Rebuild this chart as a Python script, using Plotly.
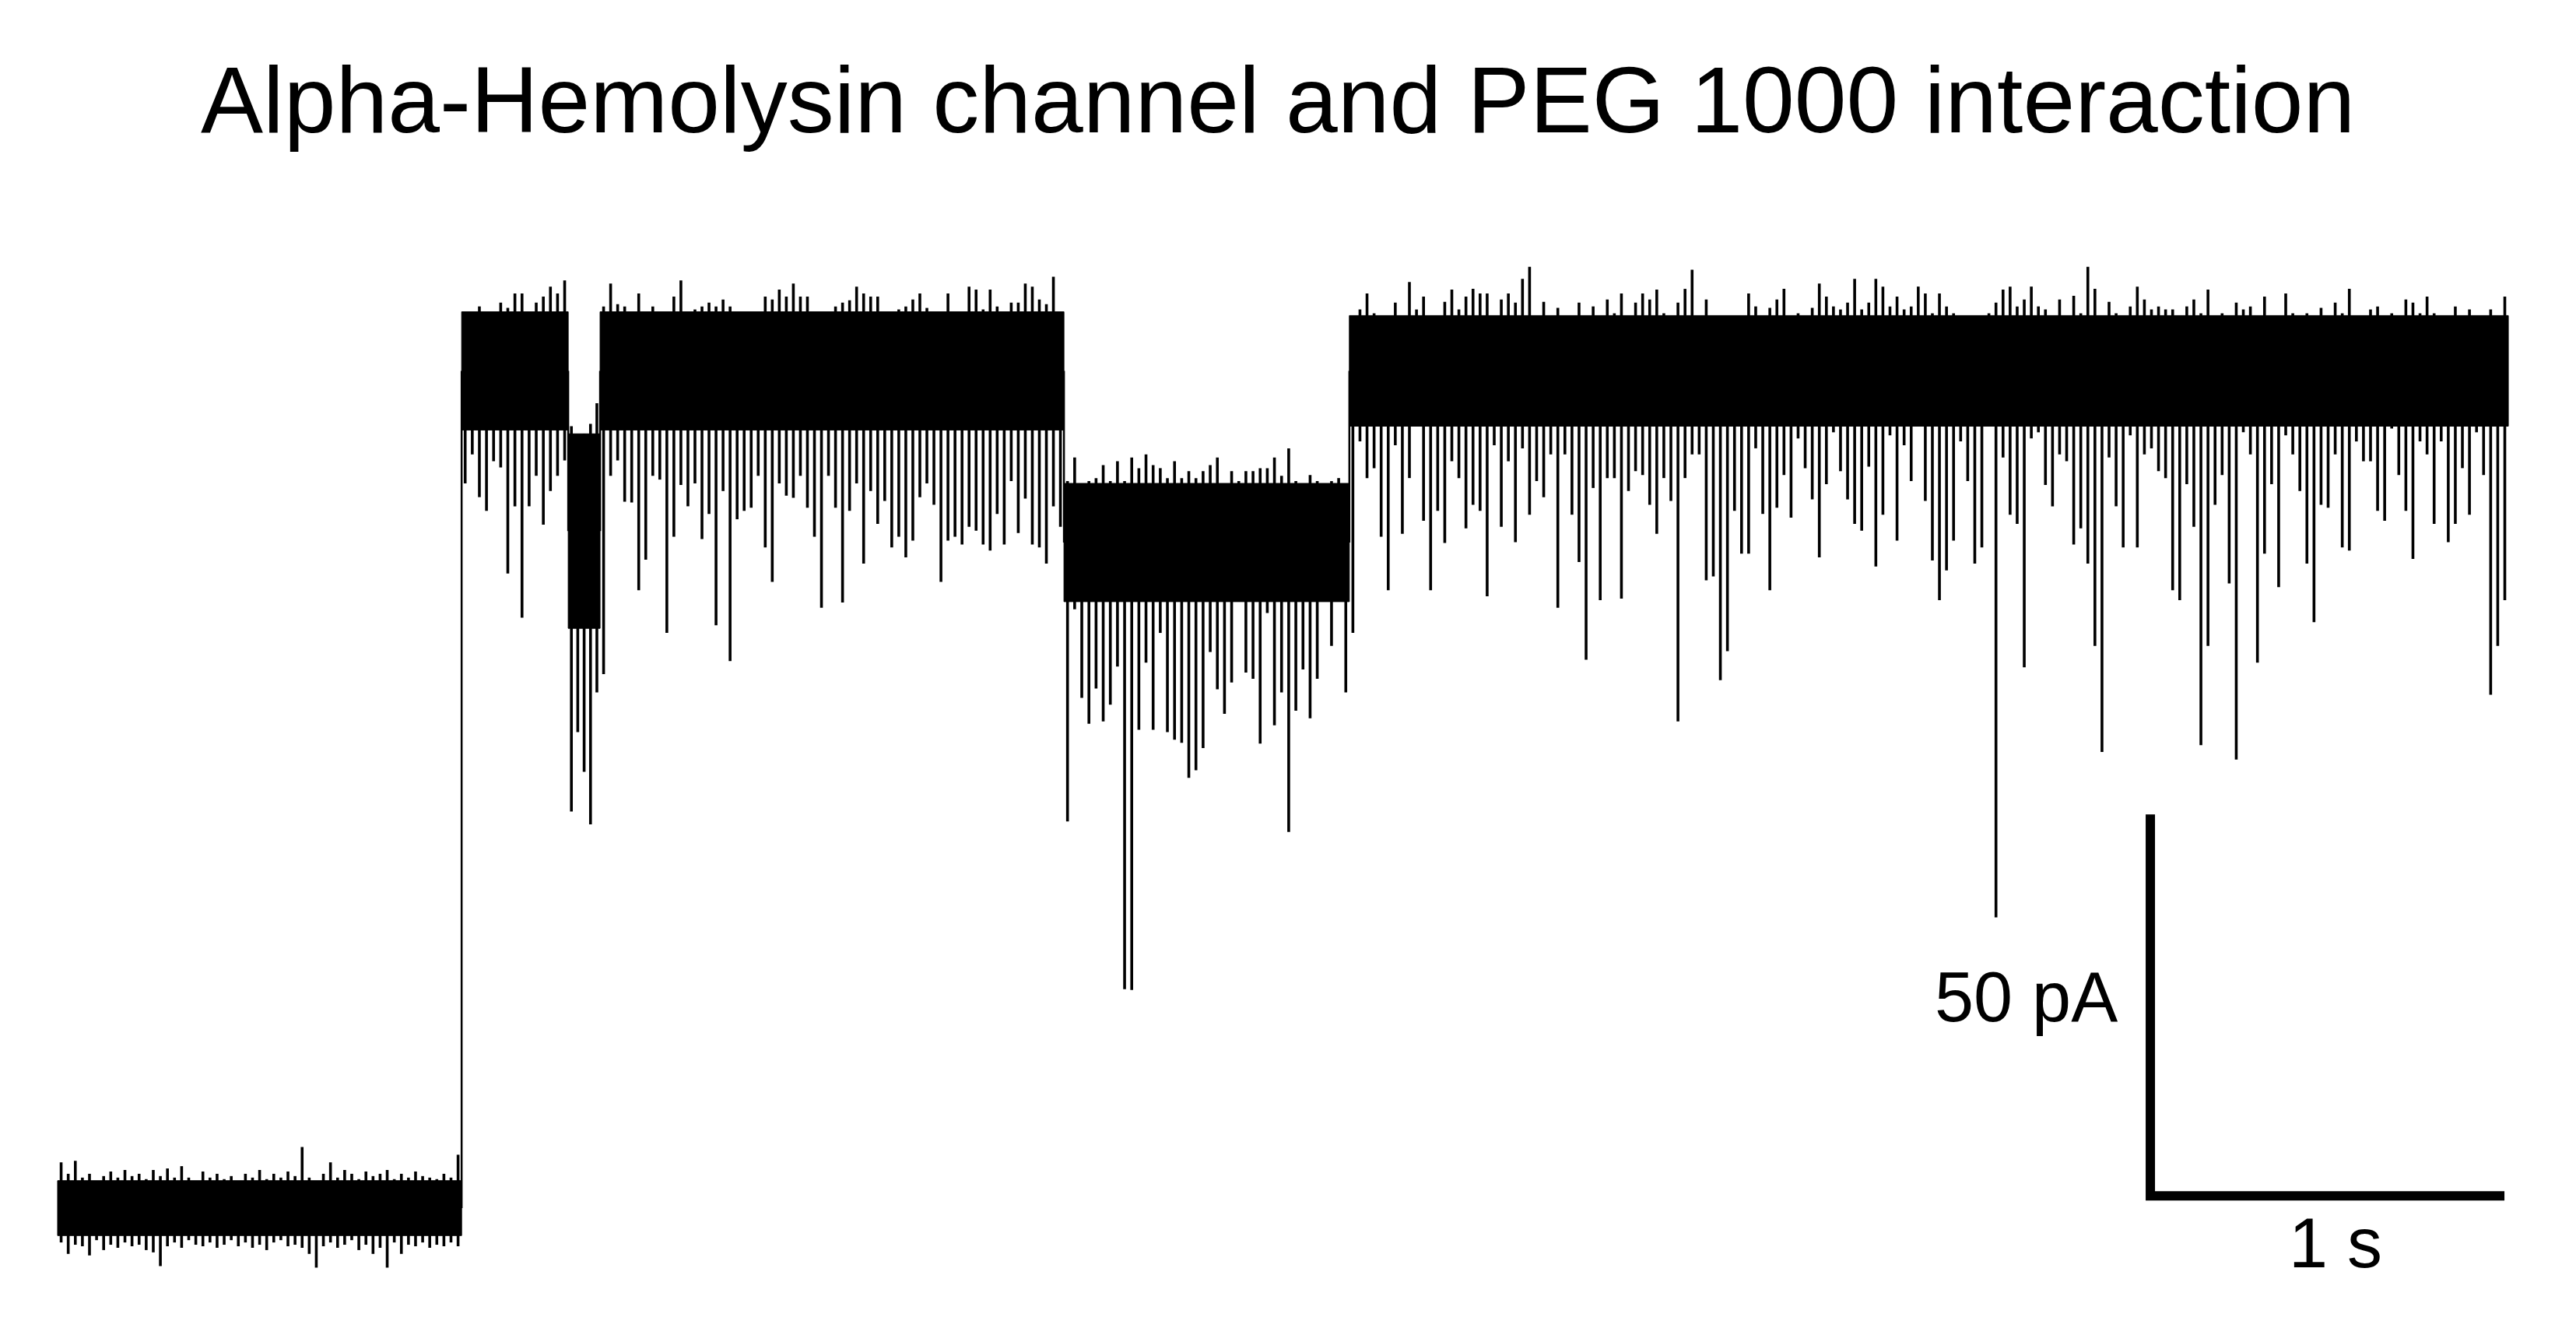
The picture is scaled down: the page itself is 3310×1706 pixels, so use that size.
import numpy as np
import plotly.graph_objects as go

# ---------------- data (time in s, current in pA) ----------------
seg_names = ["baseline", "open", "PEG dip", "open", "PEG block", "open"]
seg_start = [0.000, 1.141, 1.442, 1.532, 2.842, 3.648]
seg_end = [1.141, 1.442, 1.532, 2.842, 3.648, 6.921]
core_top = [3.6, 117.5, 101.5, 117.5, 95.0, 117.0]
core_bottom = [-3.6, 102.0, 76.0, 102.0, 79.5, 102.5]

baseline_hi = [6.0, 4.5, 6.2, 4.0, 4.5, 3.5, 4.2, 4.8, 4.0, 5.0,
               4.2, 4.5, 3.8, 5.0, 4.2, 5.2, 4.0, 5.5, 4.0, 3.2,
               4.8, 4.0, 4.5, 3.8, 4.2, 3.5, 4.5, 4.0, 5.0, 3.8,
               4.5, 4.0, 4.8, 4.2, 8.0, 4.0, 3.5, 4.5, 6.0, 4.0,
               5.0, 4.5, 3.8, 4.8, 4.2, 4.5, 5.0, 3.8, 4.5, 4.0,
               4.8, 4.2, 4.0, 3.8, 4.5, 4.0, 7.0]
baseline_lo = [-4.5, -6.0, -4.8, -5.0, -6.2, -4.2, -5.5, -4.8, -5.2, -4.5,
               -5.0, -4.8, -5.5, -5.8, -7.6, -5.0, -4.5, -5.2, -4.2, -4.8,
               -5.0, -4.5, -5.2, -4.8, -4.2, -5.0, -4.5, -5.2, -4.8, -5.5,
               -4.5, -4.2, -5.0, -4.8, -5.2, -6.0, -7.8, -5.0, -4.5, -5.2,
               -4.8, -4.2, -5.5, -4.8, -6.0, -5.2, -7.8, -4.5, -6.0, -4.8,
               -5.0, -4.5, -5.2, -4.8, -5.0, -4.5, -5.0]

open1a_hi = [116.9, 116.5, 118.2, 116.5, 116.0, 118.7, 118.0, 119.9, 119.9, 116.0,
             118.7, 119.5, 120.8, 119.9, 121.6]
open1a_lo = [95.0, 98.8, 93.2, 91.4, 97.9, 97.1, 83.2, 92.0, 77.4, 92.0,
             96.0, 89.6, 94.0, 96.0, 98.0]

dip_hi = [102.5, 101.0, 101.5, 102.8, 105.5]
dip_lo = [52.0, 62.4, 57.2, 50.3, 67.6]

open1b_hi = [118.2, 121.2, 118.5, 118.2, 117.3, 119.9, 116.9, 118.2, 115.6, 116.9,
             119.5, 121.6, 116.9, 117.8, 118.2, 118.7, 118.2, 119.1, 118.2, 115.2,
             116.9, 116.9, 117.5, 119.5, 119.1, 120.4, 119.5, 121.2, 119.5, 119.5,
             113.5, 116.5, 116.9, 118.2, 118.7, 119.0, 120.8, 119.9, 119.5, 119.5,
             116.0, 116.9, 117.8, 118.2, 119.1, 119.9, 118.0, 116.0, 116.9, 119.9,
             116.0, 116.9, 120.8, 120.4, 117.8, 120.4, 118.2, 116.5, 118.7, 118.7,
             121.2, 120.8, 119.1, 118.5, 122.1, 117.3]
open1b_lo = [70.0, 96.0, 98.0, 92.6, 92.5, 81.0, 85.0, 96.0, 95.5, 75.4,
             88.0, 94.8, 92.0, 95.0, 87.7, 91.0, 76.4, 94.0, 71.7, 90.3,
             91.4, 91.8, 96.0, 86.6, 82.1, 95.0, 93.4, 93.1, 96.0, 91.8,
             88.0, 78.7, 96.0, 91.8, 79.4, 91.4, 95.0, 84.5, 94.0, 89.7,
             92.7, 86.6, 88.0, 85.3, 87.5, 93.2, 95.0, 92.2, 82.1, 87.5,
             88.0, 87.0, 89.3, 88.8, 87.0, 86.2, 91.0, 87.0, 95.3, 88.5,
             93.0, 87.0, 86.6, 84.5, 92.0, 89.3]

peg_hi = [95.3, 98.4, 95.0, 95.3, 95.7, 97.4, 95.3, 97.9, 95.3, 98.4,
          97.0, 98.8, 97.4, 97.0, 95.7, 97.9, 95.7, 96.6, 95.7, 96.6,
          97.4, 98.4, 94.9, 96.6, 95.3, 96.6, 96.6, 97.0, 97.0, 98.4,
          96.0, 99.6, 95.3, 94.0, 96.1, 95.3, 94.4, 95.3, 95.7, 94.9]
peg_lo = [50.7, 78.5, 66.9, 63.5, 68.1, 63.8, 66.0, 71.0, 28.7, 28.6,
          62.7, 71.5, 62.7, 75.4, 62.4, 61.4, 61.0, 56.4, 57.4, 60.3,
          72.9, 68.0, 64.8, 68.9, 81.0, 70.2, 69.4, 60.9, 78.0, 63.3,
          67.6, 49.3, 65.2, 70.6, 64.2, 69.4, 82.3, 73.7, 79.7, 67.6]

open2_hi = [115.6, 117.8, 119.9, 117.3, 114.8, 116.5, 118.7, 116.9, 121.4, 117.8,
            119.5, 116.0, 116.5, 118.8, 120.4, 117.8, 119.5, 120.5, 119.9, 119.9,
            116.5, 119.1, 119.9, 118.7, 121.8, 123.4, 116.0, 118.8, 116.9, 118.0,
            113.9, 115.2, 118.7, 116.0, 118.2, 115.6, 119.1, 117.3, 119.9, 116.9,
            118.7, 119.9, 119.1, 120.4, 117.3, 116.0, 118.7, 120.5, 123.0, 116.0,
            119.1, 114.3, 116.0, 116.0, 116.5, 116.9,
            119.9, 118.2, 116.5, 118.0, 119.1, 120.5, 116.0, 117.3, 116.5, 118.0,
            121.2, 119.5, 118.2, 117.8, 118.7, 121.8, 117.8, 118.7, 121.8, 120.8,
            118.2, 119.5, 117.8, 118.2, 120.8, 119.9, 117.3, 119.9, 118.2, 117.3,
            116.5, 115.2, 111.5, 115.6, 117.3, 118.7, 120.4, 120.8, 118.2, 119.1,
            120.8, 118.2, 117.8, 116.9, 119.1, 116.5, 119.6, 117.3, 123.4, 120.5,
            116.0, 118.8, 117.3, 116.9, 118.2, 120.8, 119.1, 117.8, 118.2,
            117.8, 117.8, 116.5, 118.2, 119.1, 117.3, 120.4, 116.9, 117.3, 116.5,
            118.7, 117.8, 118.2, 116.5, 119.5, 116.9, 116.0, 119.9, 117.3, 116.5,
            117.3, 116.9, 118.0, 116.9, 118.7, 117.3, 120.5, 116.9, 116.5, 117.8,
            118.2, 116.5, 117.3, 116.0, 119.1, 118.7, 117.3, 119.5, 117.3, 116.5,
            116.9, 118.2, 116.9, 117.8, 116.5, 116.9, 117.8, 116.9, 119.5]
open2_lo = [75.4, 100.5, 95.7, 97.0, 88.0, 81.0, 100.0, 88.4, 95.7, 103.1,
            90.1, 81.0, 91.4, 87.2, 97.9, 95.7, 89.1, 92.2, 91.4, 80.2,
            100.0, 89.3, 97.9, 87.3, 99.6, 90.9, 95.3, 93.2, 98.8, 78.7,
            98.8, 90.9, 84.7, 71.9, 94.4, 79.7, 95.7, 95.7, 79.9, 94.0,
            96.6, 96.1, 92.2, 88.4, 95.7, 92.7, 63.8, 95.7, 98.8, 98.8,
            82.3, 82.8, 69.2, 73.0, 91.4, 85.8,
            85.8, 99.6, 91.0, 81.0, 91.8, 96.1, 90.5, 100.9, 97.0, 92.9,
            85.3, 94.9, 101.7, 96.6, 92.9, 89.7, 88.8, 97.2, 84.1, 90.9,
            101.3, 87.5, 100.0, 95.3, 102.7, 92.7, 84.9, 79.7, 83.6, 87.5,
            100.5, 95.3, 84.5, 86.6, 102.7, 38.1, 98.4, 90.9, 89.7, 70.9,
            100.9, 101.7, 94.8, 92.0, 98.8, 97.9, 87.0, 89.1, 84.5, 73.7,
            59.8, 98.4, 92.0, 86.6, 101.3, 86.6, 98.8, 99.6, 96.6,
            95.7, 81.0, 79.7, 94.9, 89.3, 60.7, 73.7, 92.2, 96.1, 81.9,
            58.8, 101.7, 98.8, 71.5, 85.8, 94.9, 81.4, 101.3, 98.8, 94.0,
            84.5, 76.8, 92.2, 91.8, 98.8, 86.6, 86.2, 100.5, 97.9, 97.9,
            91.4, 90.1, 102.2, 96.1, 91.4, 85.1, 100.5, 98.8, 89.7, 100.5,
            87.3, 89.7, 97.0, 90.9, 101.7, 96.1, 67.3, 73.7, 79.7]

seg_hi = [baseline_hi, open1a_hi, dip_hi, open1b_hi, peg_hi, open2_hi]
seg_lo = [baseline_lo, open1a_lo, dip_lo, open1b_lo, peg_lo, open2_lo]

title_text = "Alpha-Hemolysin channel and PEG 1000 interaction"
scalebar_time = 1.0      # s
scalebar_current = 50.0  # pA
scalebar_label_y = "50 pA"
scalebar_label_x = "1 s"

# ---------------- build marks ----------------
core_x, core_y = [], []
for s, e, top, bot in zip(seg_start, seg_end, core_top, core_bottom):
    core_x += [s, s, e, e, s, None]
    core_y += [bot, top, top, bot, bot, None]

comb_x, comb_y = [], []
for s, e, hi, lo in zip(seg_start, seg_end, seg_hi, seg_lo):
    n = min(len(hi), len(lo))
    ts = s + (np.arange(n) + 0.5) * (e - s) / n
    for t, h, l in zip(ts, hi[:n], lo[:n]):
        comb_x += [float(t), float(t), None]
        comb_y += [l, h, None]

step_x, step_y = [], []
for i in range(1, len(seg_start)):
    t = seg_start[i]
    step_x += [t, t, None]
    step_y += [(core_top[i - 1] + core_bottom[i - 1]) / 2,
               (core_top[i] + core_bottom[i]) / 2, None]

# page layout (the html body adds an 8 px margin; positions below are page pixels)
W, H = 3310, 1706
OFF = 8.0
PX_PER_S, PX_PER_PA = 455.0, 9.8
X0_PX, Y0_PX = 74.0 - OFF, 1552.0 - OFF
x_range = [-X0_PX / PX_PER_S, (W - X0_PX) / PX_PER_S]
y_range = [(Y0_PX - H) / PX_PER_PA, Y0_PX / PX_PER_PA]


def px(xp):
    return (xp - OFF) / W


def py(yp):
    return 1 - (yp - OFF) / H


sb_t0, sb_i0 = 5.91, 1.6

fig = go.Figure()
fig.add_trace(go.Scatter(x=core_x, y=core_y, mode="lines", fill="toself",
                         fillcolor="black", line=dict(color="black", width=1),
                         hoverinfo="skip"))
fig.add_trace(go.Scatter(x=comb_x, y=comb_y, mode="lines",
                         line=dict(color="black", width=3.6), hoverinfo="skip"))
fig.add_trace(go.Scatter(x=step_x, y=step_y, mode="lines",
                         line=dict(color="black", width=2.5), hoverinfo="skip"))
fig.add_trace(go.Scatter(x=[sb_t0, sb_t0, sb_t0 + scalebar_time],
                         y=[sb_i0 + scalebar_current, sb_i0, sb_i0],
                         mode="lines", line=dict(color="black", width=12),
                         hoverinfo="skip"))

font_family = "Liberation Sans, Arial, sans-serif"
fig.update_layout(
    width=W, height=H,
    margin=dict(l=0, r=0, t=0, b=0),
    paper_bgcolor="white", plot_bgcolor="white",
    showlegend=False,
    xaxis=dict(visible=False, range=x_range, fixedrange=True),
    yaxis=dict(visible=False, range=y_range, fixedrange=True),
    annotations=[
        dict(text=title_text, xref="paper", yref="paper", x=px(1641.5),
             y=py(128), xanchor="center", yanchor="middle", showarrow=False,
             font=dict(family=font_family, size=120, color="black")),
        dict(text=scalebar_label_y, xref="paper", yref="paper", x=px(2723),
             y=py(1281), xanchor="right", yanchor="middle", showarrow=False,
             font=dict(family=font_family, size=90, color="black")),
        dict(text=scalebar_label_x, xref="paper", yref="paper", x=px(3001),
             y=py(1597), xanchor="center", yanchor="middle", showarrow=False,
             font=dict(family=font_family, size=90, color="black")),
    ],
)

fig.write_html("out.html")
